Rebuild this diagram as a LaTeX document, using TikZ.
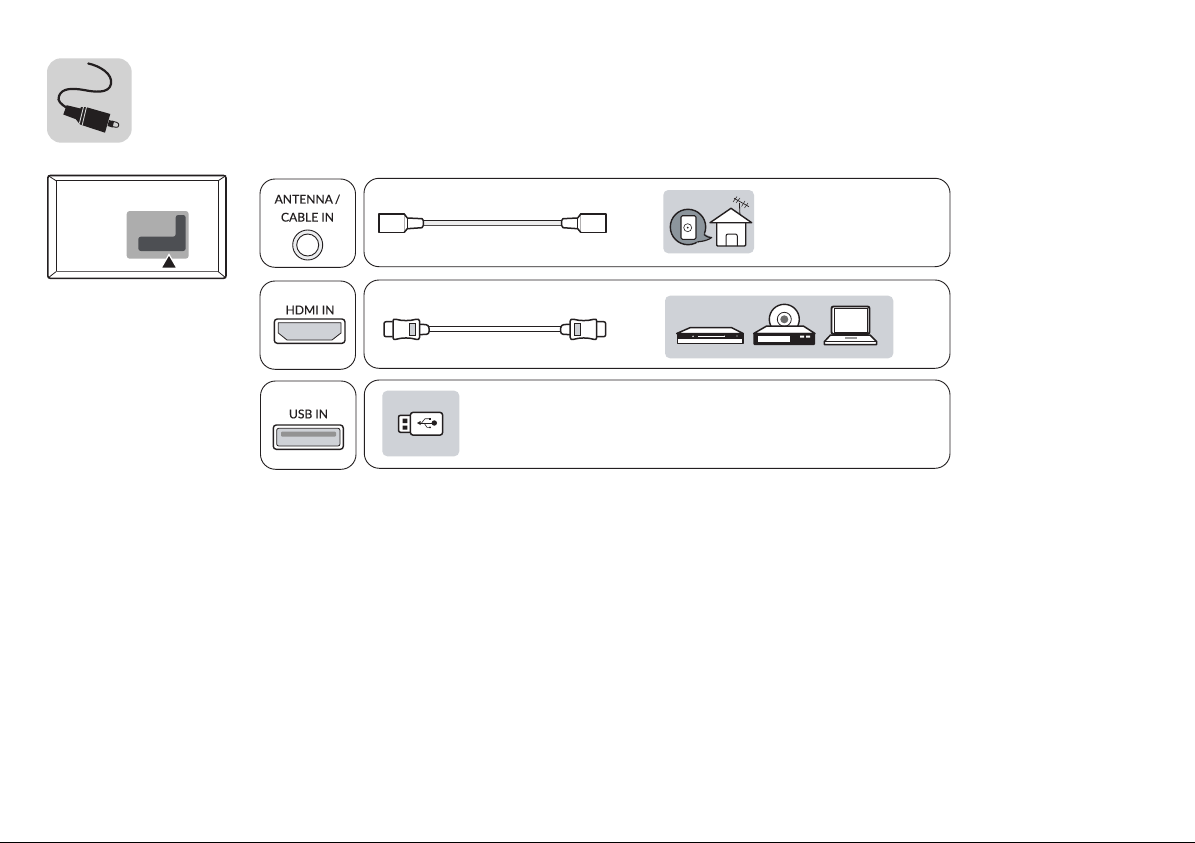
\documentclass[tikz,border=0pt]{standalone}
\usepackage{fontspec}
\setmainfont{Lato}[FakeBold=0.3]
\definecolor{iconbg}{HTML}{D2D2D2}
\definecolor{panelbg}{HTML}{CFD2D7}
\definecolor{tvpanel}{HTML}{ADADAD}
\definecolor{tvdark}{HTML}{4D4F53}
\definecolor{ink}{HTML}{231F20}
\definecolor{bubble}{HTML}{8C959C}
\tikzset{
  portbox/.style={draw=ink,line width=0.9pt,rounded corners=15pt,fill=white},
  lbl/.style={font=\fontsize{12.1}{15}\selectfont,text=ink,inner sep=0pt,align=center},
  panel/.style={fill=panelbg,rounded corners=5pt},
  thick line/.style={draw=ink,line width=1.5pt,line join=round},
  thin line/.style={draw=ink,line width=0.8pt,line join=round}
}
\begin{document}
\begin{tikzpicture}[x=1pt,y=-1pt]
\useasboundingbox (0,0) rectangle (1195,843);
\fill[white] (0,0) rectangle (1195,843);
\fill[black] (0,842) rectangle (1195,843);
% cable icon
\fill[iconbg,rounded corners=14pt] (47,58.3) rectangle (131.7,142.7);
\draw[ink,line width=2.2pt,line cap=round] (88.3,63.5) .. controls (100,66) and (113,74) .. (111,84) .. controls (109,94) and (94,92) .. (84,90) .. controls (72,88) and (62,88) .. (59,96) .. controls (57,101) and (61,104) .. (67,108);
\fill[ink] (66.7,105.2) -- (81.7,108.8) -- (79.3,120.5) -- (63.3,114.5) -- cycle;
\fill[ink] (81,107) -- (86.7,107.3) -- (110.3,114) -- (105,132.7) -- (80,124.5) -- (76,119.5) -- cycle;
\draw[iconbg,line width=0.9pt] (83.6,106.5) -- (79.4,123.5);
\draw[iconbg,line width=0.9pt] (86.6,106.5) -- (82.2,125);
\fill[ink] (109,120) -- (114,121.5) -- (112.5,127.5) -- (107.5,126) -- cycle;
\draw[ink,line width=0.9pt] (112,121) -- (117,122.5) .. controls (120,123.5) and (119,128) .. (116,127.3) -- (111,126.3);
% TV
\fill[white] (47.3,175) rectangle (226,278.3);
\draw[ink,line width=1.6pt,rounded corners=2.5pt] (47.8,175.5) rectangle (226,278.3);
\draw[ink,line width=0.9pt] (56,180.7) rectangle (218.3,271.7);
\draw[ink,line width=0.8pt] (48,175.5) -- (56,180.7) (226,175.5) -- (218.3,180.7) (48,278) -- (56,271.7) (226,278) -- (218.3,271.7);
\draw[ink!70,line width=1.2pt] (56,271.4) -- (218.3,271.4);
\fill[tvpanel,rounded corners=3pt] (126.7,211) rectangle (188.7,258.7);
\fill[tvdark,rounded corners=2.5pt] (138.3,236.7) -- (175.7,236.7) -- (175.7,215) -- (185.7,215) -- (185.7,251) -- (138.3,251) -- cycle;
\fill[ink,draw=white,line width=1.2pt,line join=miter] (161,268.3) -- (177,268.3) -- (169,254.5) -- cycle;
% left port boxes
\draw[portbox] (260,179) rectangle (355.5,267.3);
\draw[portbox] (260,281) rectangle (355.5,369.3);
\draw[portbox] (260.5,381) rectangle (356,469.3);
% right boxes
\draw[portbox] (364,178.3) rectangle (950,266.7);
\draw[portbox] (364,280) rectangle (950,368.3);
\draw[portbox] (364.3,380) rectangle (950,468.3);
% labels
\node[lbl] (lantenna) at (307.5,199.3) {ANTENNA\,/};
\node[lbl] (lcable) at (307.5,217.2) {CABLE IN};
\node[lbl] (lhdmi) at (310,310) {HDMI IN};
\node[lbl] (lusb) at (308.5,414) {USB IN};
% antenna port
\draw[ink,line width=0.9pt,fill=panelbg!40] (307.7,245) circle (15);
\draw[ink,line width=0.9pt,fill=white] (307.7,245) circle (11);
% hdmi port
\draw[ink,line width=1.4pt,fill=white,rounded corners=3pt] (274.3,319) rectangle (345,343.3);
\draw[ink,line width=0.8pt,fill=panelbg,line join=round] (278.3,322.7) -- (341,322.7) -- (341,333) -- (332,340) -- (287,340) -- (278.3,333) -- cycle;
% usb port
\draw[ink,line width=1.4pt,fill=white,rounded corners=3pt] (273.3,425) rectangle (343.3,449.3);
\draw[ink,line width=0.8pt,fill=panelbg,rounded corners=2pt] (276.7,428.3) rectangle (340,446);
\fill[gray!85,rounded corners=1pt] (281,431.7) rectangle (336,436.7);
% coax cable
\fill[gray!15] (423,220.7) rectangle (562,225);
\draw[ink,line width=0.8pt] (423,220.7) -- (562,220.7);
\draw[ink!80,line width=0.8pt] (423,225) -- (562,225);
\foreach \s/\o in {1/0,-1/985}{
\begin{scope}[xshift=\o pt,xscale=\s]
\draw[thick line,fill=white] (379,214) rectangle (404.3,232.3);
\draw[thick line,fill=white] (404.3,214) -- (407.3,218) -- (422,218.7) -- (423.3,220.5) -- (423.3,225.5) -- (422,227.7) -- (407.3,228.7) -- (404.3,232.3);
\draw[ink,line width=0.8pt] (407.3,218) -- (407.3,228.7);
\end{scope}}
% hdmi cable
\draw[ink,line width=0.8pt] (428,326.7) -- (562,326.7);
\draw[ink,line width=0.8pt] (428,331.5) -- (562,331.5);
\foreach \s/\o in {1/0,-1/989.7}{
\begin{scope}[xshift=\o pt,xscale=\s]
\draw[thick line,fill=white,rounded corners=2pt] (392.5,321.7) -- (384,321.7) -- (384,336.7) -- (392.5,336.7);
\draw[thick line,fill=white,rounded corners=3pt] (419.3,324.3) -- (428.8,324.7) -- (429.3,334.3) -- (419.3,334.6);
\draw[thick line,fill=white] (393,321) .. controls (393,319) and (394,319) .. (396,319.3) .. controls (402,321) and (410,321) .. (416,319.3) .. controls (418,319) and (419.5,319) .. (419.5,321) -- (419.5,337.5) .. controls (419.5,339.5) and (418,339.8) .. (416,339.3) .. controls (410,337.5) and (402,337.5) .. (396,339.3) .. controls (394,339.8) and (393,339.5) .. (393,337.5) -- cycle;
\draw[ink,line width=0.7pt,fill=panelbg] (409.3,323.5) rectangle (415,335);
\end{scope}}
% house panel
\fill[panel] (663.3,190) rectangle (754,253.3);
\draw[ink,line width=1.4pt,fill=bubble] (688,227) circle (17.7);
\fill[bubble] (703,233) -- (711.7,237.5) -- (697,243) -- (695,236) -- cycle;
\draw[ink,line width=1.2pt,line join=round] (703.9,234.4) .. controls (705,236) and (708,237.5) .. (711.7,237.5) .. controls (708.5,240) and (703,241.5) .. (697.5,241.8);
\draw[ink,line width=1.1pt,fill=white,rounded corners=1.5pt] (681,215.7) rectangle (696,239.3);
\draw[ink,line width=0.6pt] (687.7,227.7) circle (4);
\fill[ink] (687.7,227.7) circle (1);
\draw[ink,line width=1.4pt,fill=white,line join=round,rounded corners=1pt] (716.7,222.7) -- (716.7,246) -- (745.7,246) -- (745.7,222.7);
\draw[ink,line width=0.8pt] (739.9,214) -- (739.4,203);
\draw[ink,line width=0.7pt] (734,198.3) -- (749,206.7);
\draw[ink,line width=0.5pt] (733,202) -- (737,196.5) (736,203) -- (740,198) (741.5,206.5) -- (745,201) (744.5,208) -- (748,203);
\draw[ink,line width=1.4pt,fill=white,line join=round] (710,222.7) -- (731,208.3) -- (751.7,222.7) -- cycle;
\draw[ink,line width=1pt,rounded corners=2pt] (726,246) -- (726,234) -- (737.3,234) -- (737.3,246);
% devices panel
\fill[panel] (665,295.7) rectangle (893.3,358.3);
% settop box
\draw[thick line,fill=white] (676.7,333.5) -- (690,327.7) -- (731.7,327.7) -- (743.3,333.5) -- cycle;
\draw[thick line,fill=white] (677.3,333.5) rectangle (743,343.7);
\fill[ink] (677.3,333.5) rectangle (743,339.2);
\draw[white,line width=0.5pt] (698,336.3) -- (725,336.3);
\fill[white] (693,336.3) circle (0.8) (724.5,336) circle (0.5) (737,336) circle (0.7);
% dvd
\draw[ink,line width=1.4pt,fill=white] (784.3,319.3) circle (15);
\draw[ink,line width=0.8pt,fill=white] (784.3,319.3) circle (7);
\fill[gray!85!black] (784.3,319.3) circle (4);
\draw[thick line,fill=white] (753.7,333.5) -- (766.7,326) -- (803.3,326) -- (815,333.5) -- cycle;
\fill[ink,rounded corners=1pt] (753.3,332.8) rectangle (815,345);
\fill[white] (758,336) rectangle (790,341.7);
\fill[white] (800,335.5) rectangle (804,337.5) (806,335.5) rectangle (810,337.5);
% laptop
\draw[draw=ink,fill=white,rounded corners=2pt,line width=1.9pt] (831.5,306.5) rectangle (869.5,334);
\draw[ink,line width=0.5pt] (833.8,308.7) rectangle (867.2,332);
\draw[thick line,fill=white] (824.3,341.7) -- (830.5,335) -- (870,335) -- (876.7,341.7) -- (876.7,344.5) -- (824.3,344.5) -- cycle;
\draw[ink,line width=0.7pt] (824.3,341.7) -- (876.7,341.7);
\fill[gray!80] (845,336.5) rectangle (857,338.5);
% usb panel
\fill[panel] (382.3,390.7) rectangle (459.3,456.3);
\draw[thick line,fill=white,rounded corners=2pt] (411,415.3) -- (398.5,415.3) -- (398.5,432.3) -- (411,432.3);
\fill[ink] (402.7,418.7) rectangle (407.3,423) (402.7,425.7) rectangle (407.3,429.7);
\draw[thick line,fill=white,rounded corners=3pt] (410.3,412.3) rectangle (442.7,435.2);
\draw[ink,line width=0.6pt] (419,423) -- (434,423);
\draw[ink,line width=0.6pt] (421.5,423) -- (425,418.7) -- (429,418.7) (424,423) -- (427,427.3) -- (430,427.3);
\fill[ink] (434.3,423) circle (2.7);
\fill[ink] (417,423) -- (420.5,421) -- (420.5,425) -- cycle;
\fill[ink] (428.5,417.5) rectangle (430.5,419.7);
\fill[ink] (430,427.3) circle (1);
\end{tikzpicture}
\end{document}
